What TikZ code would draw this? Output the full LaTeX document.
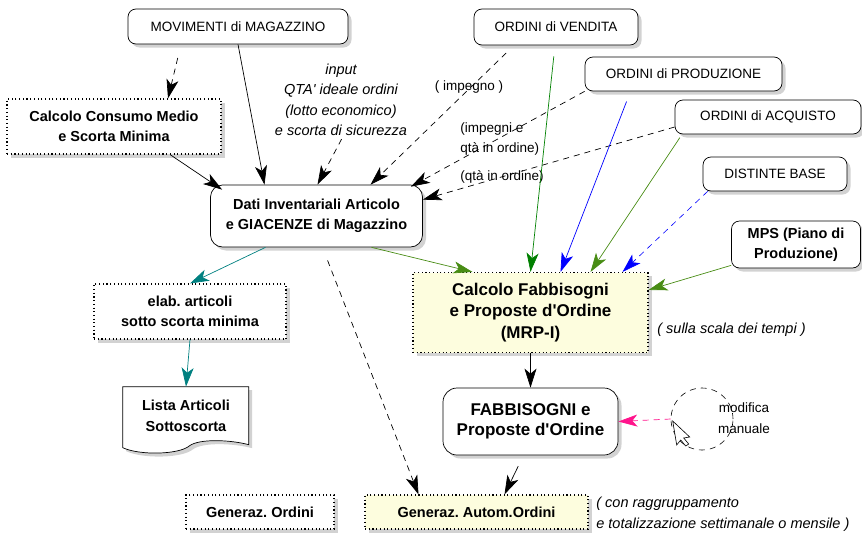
\documentclass[tikz,border=0pt]{standalone}
\usepackage{fontspec}
\setmainfont{Liberation Sans}
\usetikzlibrary{shapes.geometric,arrows.meta,shadows}
\definecolor{vendgreen}{RGB}{0,128,0}
\definecolor{acqgreen}{RGB}{72,140,20}
\definecolor{elabteal}{RGB}{0,128,128}
\definecolor{manpink}{RGB}{255,20,140}
\definecolor{mrpyellow}{RGB}{253,253,222}
\frenchspacing

\begin{document}
\begin{tikzpicture}[x=1pt,y=-1pt,line width=0.7pt]
            \tikzstyle{shade box}=[fill=white,drop shadow={shadow xshift=3.5pt,shadow yshift=-3.5pt,fill=black!35}]
            \tikzstyle{data node}=[shade box,draw,rounded corners=8pt,align=center,font=\fontsize{13.5}{16}\selectfont]
            \tikzstyle{proc node}=[shade box,draw,line width=1.1pt,dash pattern=on 1.1pt off 2.6pt,align=center,font=\bfseries\fontsize{14.5}{20.5}\selectfont]
            \tikzstyle{note}=[inner sep=0pt,align=center,font=\itshape\fontsize{14.5}{20.5}\selectfont]
            \tikzstyle{tag}=[inner sep=0pt,align=left,font=\fontsize{13.5}{20}\selectfont]
            \tikzstyle{flow}=[-{Stealth[length=19pt,width=12pt,inset=5pt]}]
            \tikzstyle{link}=[flow,dash pattern=on 6pt off 5pt]
            \useasboundingbox (0,0) rectangle (862,536);
            % sorgenti dati
            \node[data node,minimum width=220pt,minimum height=35pt] (mov) at (238,26.5) {MOVIMENTI di MAGAZZINO};
            \node[data node,minimum width=164pt,minimum height=36pt] (vend) at (556,27) {ORDINI di VENDITA};
            \node[data node,minimum width=197pt,minimum height=34pt] (prod) at (683.5,74) {ORDINI di PRODUZIONE};
            \node[data node,minimum width=186pt,minimum height=34pt] (acq) at (768,117) {ORDINI di ACQUISTO};
            \node[data node,minimum width=144pt,minimum height=34pt] (dist) at (775,174) {DISTINTE BASE};
            \node[data node,minimum width=129pt,minimum height=47pt,font=\bfseries\fontsize{14.5}{20.5}\selectfont] (mps) at (796,244.5) {MPS (Piano di\\Produzione)};
            % elaborazioni
            \node[proc node,minimum width=214pt,minimum height=55pt] (cons) at (114,126.5) {Calcolo Consumo Medio\\e Scorta Minima};
            \node[data node,rounded corners=12pt,minimum width=212pt,minimum height=62pt,font=\bfseries\fontsize{14.5}{20.5}\selectfont] (dati) at (316.5,216) {Dati Inventariali Articolo\\e GIACENZE di Magazzino};
            \node[proc node,minimum width=192pt,minimum height=55pt] (elab) at (190,311.5) {elab. articoli\\sotto scorta minima};
            \node[align=center,minimum width=126pt,minimum height=58pt,font=\bfseries\fontsize{14.5}{20.5}\selectfont] (lista) at (186,416) {};
            \draw[shade box,shift={(lista.north west)}] (0,0) -- (126,0) -- (126,58) .. controls (107,53) and (77,52) .. (67,59) .. controls (57,68) and (17,69) .. (0,61) -- cycle;
            \node[align=center,font=\bfseries\fontsize{14.5}{20.5}\selectfont] at (lista) {Lista Articoli\\Sottoscorta};
            \node[proc node,fill=mrpyellow,minimum width=235pt,minimum height=80pt,font=\bfseries\fontsize{17}{21.5}\selectfont] (mrp) at (530.5,312.5) {Calcolo Fabbisogni\\e Proposte d\textquotesingle Ordine\\(MRP-I)};
            \node[data node,rounded corners=14pt,minimum width=175pt,minimum height=67pt,font=\bfseries\fontsize{17}{20.5}\selectfont] (fabb) at (530.5,421.5) {FABBISOGNI e\\Proposte d\textquotesingle Ordine};
            \node[proc node,minimum width=148pt,minimum height=34pt] (genord) at (260,512) {Generaz. Ordini};
            \node[proc node,fill=mrpyellow,minimum width=223pt,minimum height=34pt] (genaut) at (476.5,512) {Generaz. Autom.Ordini};
            % modifica manuale
            \node[circle,draw,dash pattern=on 6pt off 5pt,line width=0.6pt,minimum size=62pt] (mod) at (702,419) {};
            \node[inner sep=0pt,align=center,font=\fontsize{13.5}{21}\selectfont] (modtxt) at (744,418) {modifica\\manuale};
            \draw[fill=white,line width=0.6pt,shift={(mod.west)}] (2,2) -- (6,26) -- (10,21) -- (15,27) -- (18,25) -- (13,19) -- (19,18) -- cycle;
            % note
            \node[note] (lblin) at (341,100) {input\\QTA\textquotesingle{} ideale ordini\\(lotto economico)\\e scorta di sicurezza};
            \node[tag] (lblimp) at (469,87) {( impegno )};
            \node[tag,anchor=west] (lblqta) at (460,139) {(impegni e\\qtà in ordine)};
            \node[tag,anchor=west] (lblord) at (460,177) {(qtà in ordine)};
            \node[note,anchor=west] (lbltempi) at (657,330) {( sulla scala dei tempi )};
            \node[note,anchor=west,align=left] (lblragg) at (596,514) {( con raggruppamento\\e totalizzazione settimanale o mensile )};
            % collegamenti
            \draw[flow] (mov.south) -- ([xshift=-52pt]dati.north);
            \draw[link,shorten <=14pt] ([xshift=-57pt]mov.south) -- ([xshift=54pt]cons.north);
            \draw[flow] ([xshift=56pt]cons.south) -- ([xshift=12pt,yshift=-5pt]dati.north west);
            \draw[link,shorten <=3pt] ([xshift=2pt]lblin.south) -- ([xshift=1pt]dati.north);
            \draw[link,shorten <=11pt] ([xshift=-42pt]vend.south) -- ([xshift=54pt]dati.north);
            \draw[link] (prod.south west) -- ([xshift=-12pt,yshift=-2pt]dati.north east);
            \draw[link] ([yshift=-10pt]acq.west) -- ([yshift=-15pt]dati.north east);
            \draw[flow,vendgreen,shorten <=11pt] ([xshift=-1pt]vend.south) -- (mrp.north);
            \draw[flow,blue,shorten <=11pt] ([xshift=-53pt]prod.south) -- ([xshift=30pt]mrp.north);
            \draw[flow,acqgreen,shorten <=4pt] ([xshift=-86pt]acq.south) -- ([xshift=60pt]mrp.north);
            \draw[link,blue,line width=0.6pt] ([xshift=5pt]dist.south west) -- ([xshift=92pt]mrp.north);
            \draw[flow,acqgreen] ([yshift=3pt]mps.south west) -- ([yshift=-18pt]mrp.north east);
            \draw[flow,acqgreen] ([xshift=55pt]dati.south) -- ([xshift=-58pt]mrp.north);
            \draw[flow,elabteal] ([xshift=-51pt]dati.south) -- (elab.north);
            \draw[flow,elabteal] (elab.south) -- (lista.north);
            \draw[link,shorten <=14pt] ([xshift=6pt]dati.south) -- ([xshift=-58pt]genaut.north);
            \draw[flow] (mrp.south) -- (fabb.north);
            \draw[flow,shorten <=12pt] ([xshift=-7pt]fabb.south) -- ([xshift=28pt]genaut.north);
            \draw[link,manpink] (mod.west) -- (fabb.east);
          \end{tikzpicture}
\end{document}
